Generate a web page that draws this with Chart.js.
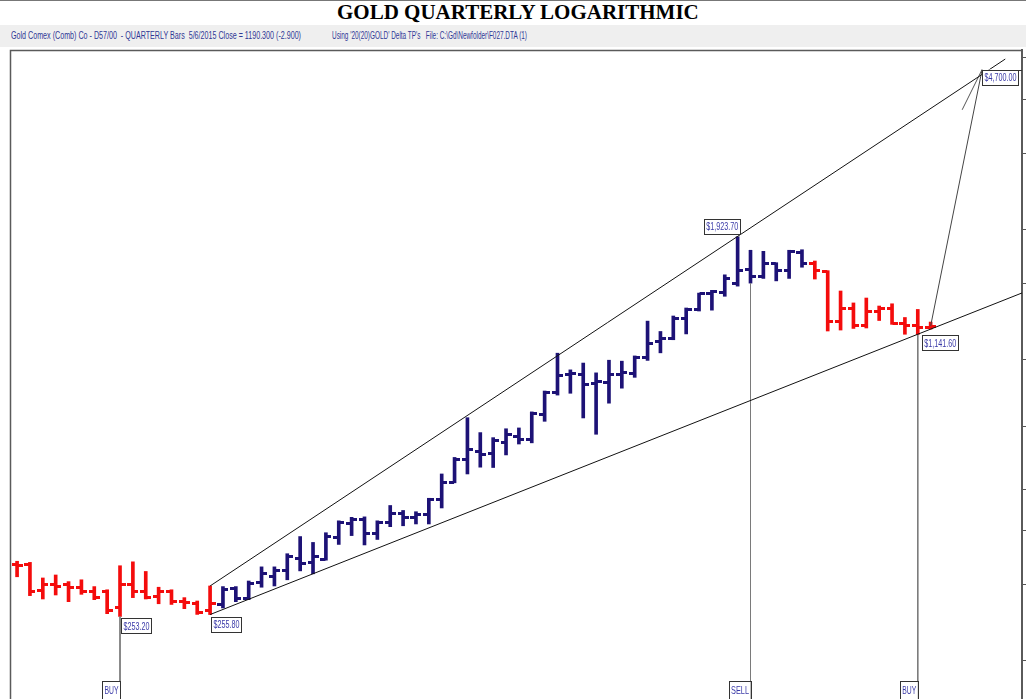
<!DOCTYPE html>
<html>
<head>
<meta charset="utf-8">
<title>Gold Quarterly Logarithmic</title>
<script src="https://cdn.jsdelivr.net/npm/chart.js@4.4.1/dist/chart.umd.min.js"></script>
<style>
  html, body { margin: 0; padding: 0; background: #fff; overflow: hidden; }
  body { width: 1026px; height: 699px; position: relative; }
  #topline { position: absolute; left: 0; top: 0; width: 1026px; height: 1px; background: #777; }
  #title { position: absolute; left: 337px; top: 2px; font: bold 21px "Liberation Serif", "Times New Roman", serif; line-height: 21px; color: #000; white-space: nowrap; }
  #strip { position: absolute; left: 0; top: 25px; width: 1026px; height: 22px; background: #efefef; }
  .sub { position: absolute; top: 30px; font: 11px "Liberation Sans", Arial, sans-serif; line-height: 10px; color: #2f3896; white-space: nowrap; transform-origin: 0 0; }
  #chart { position: absolute; left: 0; top: 0; }
</style>
</head>
<body>
<div id="topline"></div>
<div id="strip"></div>
<div id="title">GOLD QUARTERLY LOGARITHMIC</div>
<div class="sub" style="left:11px" data-w="290">Gold Comex (Comb) Co - D57/00&nbsp; - QUARTERLY Bars&nbsp; 5/6/2015 Close = 1190.300 (-2.900)</div>
<div class="sub" style="left:332px" data-w="195">Using '20(20)GOLD' Delta TP's&nbsp;&nbsp; File: C:\Gd\Newfolder\F027.DTA (1)</div>
<canvas id="chart" width="1026" height="712"></canvas>
<script>
// quarterly bars, Q3 1997 .. Q2 2015
var quarters = [
  "Q3 1997","Q4 1997","Q1 1998","Q2 1998","Q3 1998","Q4 1998","Q1 1999","Q2 1999","Q3 1999","Q4 1999",
  "Q1 2000","Q2 2000","Q3 2000","Q4 2000","Q1 2001","Q2 2001","Q3 2001","Q4 2001","Q1 2002","Q2 2002",
  "Q3 2002","Q4 2002","Q1 2003","Q2 2003","Q3 2003","Q4 2003","Q1 2004","Q2 2004","Q3 2004","Q4 2004",
  "Q1 2005","Q2 2005","Q3 2005","Q4 2005","Q1 2006","Q2 2006","Q3 2006","Q4 2006","Q1 2007","Q2 2007",
  "Q3 2007","Q4 2007","Q1 2008","Q2 2008","Q3 2008","Q4 2008","Q1 2009","Q2 2009","Q3 2009","Q4 2009",
  "Q1 2010","Q2 2010","Q3 2010","Q4 2010","Q1 2011","Q2 2011","Q3 2011","Q4 2011","Q1 2012","Q2 2012",
  "Q3 2012","Q4 2012","Q1 2013","Q2 2013","Q3 2013","Q4 2013","Q1 2014","Q2 2014","Q3 2014","Q4 2014",
  "Q1 2015","Q2 2015"
];
var opens = [335,334,291,300,300,296,290,289,265,300, 289,281,289,274,272,262,270,294,278,303,
  314,323,346,337,344,387,417,426,394,418, 438,429,436,472,518,586,610,605,640,662,
  652,745,836,920,920,880,884,924,927,1009, 1097,1115,1240,1307,1420,1430,1500,1615,1560,1668,
  1604,1772,1670,1598,1226,1315,1200,1294,1315,1212, 1200,1185];
var highs = [340,338,311,316,305,308,297,292,332,339, 322,296,292,280,275,298,297,297,306,330,
  330,354,388,376,396,422,430,431,422,458, 446,443,476,542,592,732,676,658,690,693,
  755,844,1033,945,980,930,995,990,1018,1226, 1160,1260,1315,1424,1445,1570,1923.7,1790,1780,1675,
  1790,1795,1690,1605,1440,1351,1387,1329,1345,1250, 1305,1220];
var lows = [313,283,278,284,274,285,277,257,253.2,280, 278,271,270,264,256,255.8,265,274,277,296,
  298,308,323,318,342,372,390,371,382,409, 411,415,415,452,517,542,562,561,600,636,
  640,718,826,834,731,670,791,857,908,994, 1035,1110,1145,1294,1300,1400,1478,1502,1540,1520,
  1540,1635,1535,1163,1169,1179,1182,1230,1205,1143, 1141.6,1175];
var closes = [332,290,301,297,296,289,280,262,300,290, 280,289,274,273,258,272,293,278,302,318,
  323,348,336,348,389,418,425,394,418,438, 429,436,473,518,586,616,600,648,670,652,
  748,836,918,928,872,890,924,930,1009,1089, 1115,1245,1307,1421,1435,1540,1609,1560,1668,1605,
  1776,1665,1605,1226,1315,1200,1294,1315,1211,1200, 1185,1190.3];

// bars 16..61 are the blue (up-trend) bars, the rest red
var blueFirst = 16, blueLast = 61;

// trend lines [quarter index, price]
var upperLine = [[15, 298], [76.8, 4970]];
var lowerLine = [[15, 255.8], [78.1, 1425]];
var targetLine = [[71, 1195], [75, 4700]];
var arrowStroke = [[75, 4700], [73.45, 3790]];

// price boxes and signals
var priceLabels = ["$253.20", "$255.80", "$1,923.70", "$1,141.60", "$4,700.00"];
var priceLabelAt = [[8, 253.2], [15, 255.8], [56, 1923.7], [70, 1141.6], [75, 4700]];
var signals = ["BUY", "SELL", "BUY"];
var signalAt = [[8, 253.2], [57, 1502], [70, 1141.6]];

var yTicks = [200, 300, 400, 500, 700, 1000, 1500, 2000, 3000, 4000, 5000];
var yMin = 155.3, yMax = 5216;

var RED = "#f40c0c", BLUE = "#1d1276", LABEL = "#3a3aa8";

// squeeze the header text to its width in the picture
document.querySelectorAll('.sub').forEach(function (el) {
  var w = el.getBoundingClientRect().width;
  el.style.transform = 'scaleX(' + (el.dataset.w / w) + ')';
});

function isBlue(i) { return i >= blueFirst && i <= blueLast; }

function tickImg(color, side) {
  var c = document.createElement('canvas');
  c.width = 11; c.height = 3;
  var g = c.getContext('2d');
  g.fillStyle = color;
  g.fillRect(side < 0 ? 0 : 6, 0, 5, 3);
  return c;
}
var openRed = tickImg(RED, -1), openBlue = tickImg(BLUE, -1);
var closeRed = tickImg(RED, 1), closeBlue = tickImg(BLUE, 1);

function pts(arr) { return arr.map(function (p) { return {x: p[0], y: p[1]}; }); }

function lineSet(data, color) {
  return {
    type: 'line', data: pts(data), borderColor: color, borderWidth: 1,
    pointRadius: 0, fill: false, tension: 0
  };
}

var bars = quarters.map(function (q, i) { return {x: i, y: [lows[i], highs[i]]}; });
var openPts = quarters.map(function (q, i) { return {x: i, y: opens[i]}; });
var closePts = quarters.map(function (q, i) { return {x: i, y: closes[i]}; });

var signalLines = signalAt.map(function (s) { return lineSet([[s[0], s[1]], [s[0], yMin]], '#7a7a7a'); });

function drawBox(ctx, text, x, y, w, h) {
  ctx.fillStyle = '#fff';
  ctx.fillRect(x, y, w, h);
  ctx.strokeStyle = '#333';
  ctx.lineWidth = 1;
  ctx.strokeRect(Math.round(x) + 0.5, Math.round(y) + 0.5, w, h);
  ctx.fillStyle = LABEL;
  ctx.textAlign = 'center';
  ctx.textBaseline = 'middle';
  ctx.fillText(text, x + w / 2 + 0.5, y + h / 2 + 1, w - 4);
}

var annotate = {
  id: 'annotate',
  afterDatasetsDraw: function (chart) {
    var ctx = chart.ctx, xs = chart.scales.x, ys = chart.scales.y, a = chart.chartArea;
    ctx.save();
    // frame
    ctx.strokeStyle = '#5a5a5a';
    ctx.lineWidth = 1.5;
    ctx.beginPath();
    ctx.moveTo(a.left + 0.5, a.bottom + 5);
    ctx.lineTo(a.left + 0.5, a.top + 0.5);
    ctx.lineTo(a.right, a.top + 0.5);
    ctx.stroke();

    ctx.font = "11px 'Liberation Sans', Arial, sans-serif";
    for (var i = 0; i < priceLabels.length; i++) {
      var px = xs.getPixelForValue(priceLabelAt[i][0]);
      var py = ys.getPixelForValue(priceLabelAt[i][1]);
      var w = priceLabels[i].length > 7 ? 36 : 30, h = 15;
      var bx, by;
      if (i === 2) { bx = px - w + 2; by = py - h - 3; }
      else if (i === 3) { bx = px + 4; by = py + 1; }
      else if (i === 4) { bx = px; by = py; }
      else { bx = px + 1; by = py + 2; }
      if (i === 4) {
        ctx.strokeStyle = '#333';
        ctx.lineWidth = 1;
        ctx.beginPath();
        ctx.moveTo(bx, Math.round(by) + 0.5);
        ctx.lineTo(a.right, Math.round(by) + 0.5);
        ctx.stroke();
      }
      drawBox(ctx, priceLabels[i], bx, by, w, h);
    }

    ctx.font = "10.5px 'Liberation Sans', Arial, sans-serif";
    for (var j = 0; j < signals.length; j++) {
      var sx = xs.getPixelForValue(signalAt[j][0]);
      var sw = signals[j].length > 3 ? 22 : 18;
      drawBox(ctx, signals[j], sx - sw, a.bottom - 27, sw, 18);
    }
    ctx.restore();
  }
};

var ctx = document.getElementById('chart');
var chart = new Chart(ctx, {
  type: 'bar',
  data: {
    datasets: [
      lineSet(upperLine, '#111'),
      lineSet(lowerLine, '#111'),
      lineSet(targetLine, '#444'),
      lineSet(arrowStroke, '#555')
    ].concat(signalLines).concat([
      {
        type: 'bar', data: bars, barThickness: 3, borderWidth: 0,
        backgroundColor: function (c) { return isBlue(c.dataIndex) ? BLUE : RED; }
      },
      {
        type: 'scatter', data: openPts, pointRadius: 3, pointHoverRadius: 3,
        pointStyle: function (c) { return isBlue(c.dataIndex) ? openBlue : openRed; }
      },
      {
        type: 'scatter', data: closePts, pointRadius: 3, pointHoverRadius: 3,
        pointStyle: function (c) { return isBlue(c.dataIndex) ? closeBlue : closeRed; }
      }
    ])
  },
  options: {
    responsive: false,
    animation: false,
    layout: { padding: { left: 10, top: 50, right: 0, bottom: 0 } },
    plugins: { legend: { display: false }, tooltip: { enabled: false } },
    scales: {
      x: {
        type: 'linear', min: -0.55, max: 78.1, offset: false, display: false
      },
      y: {
        type: 'logarithmic', position: 'right', min: yMin, max: yMax, bounds: 'data',
        afterBuildTicks: function (axis) { axis.ticks = yTicks.map(function (v) { return {value: v}; }); },
        ticks: { display: false },
        grid: { drawOnChartArea: false, drawTicks: true, tickLength: 4, color: '#555' },
        border: { display: true, color: '#5a5a5a', width: 2 }
      }
    }
  },
  plugins: [annotate]
});
</script>
</body>
</html>
